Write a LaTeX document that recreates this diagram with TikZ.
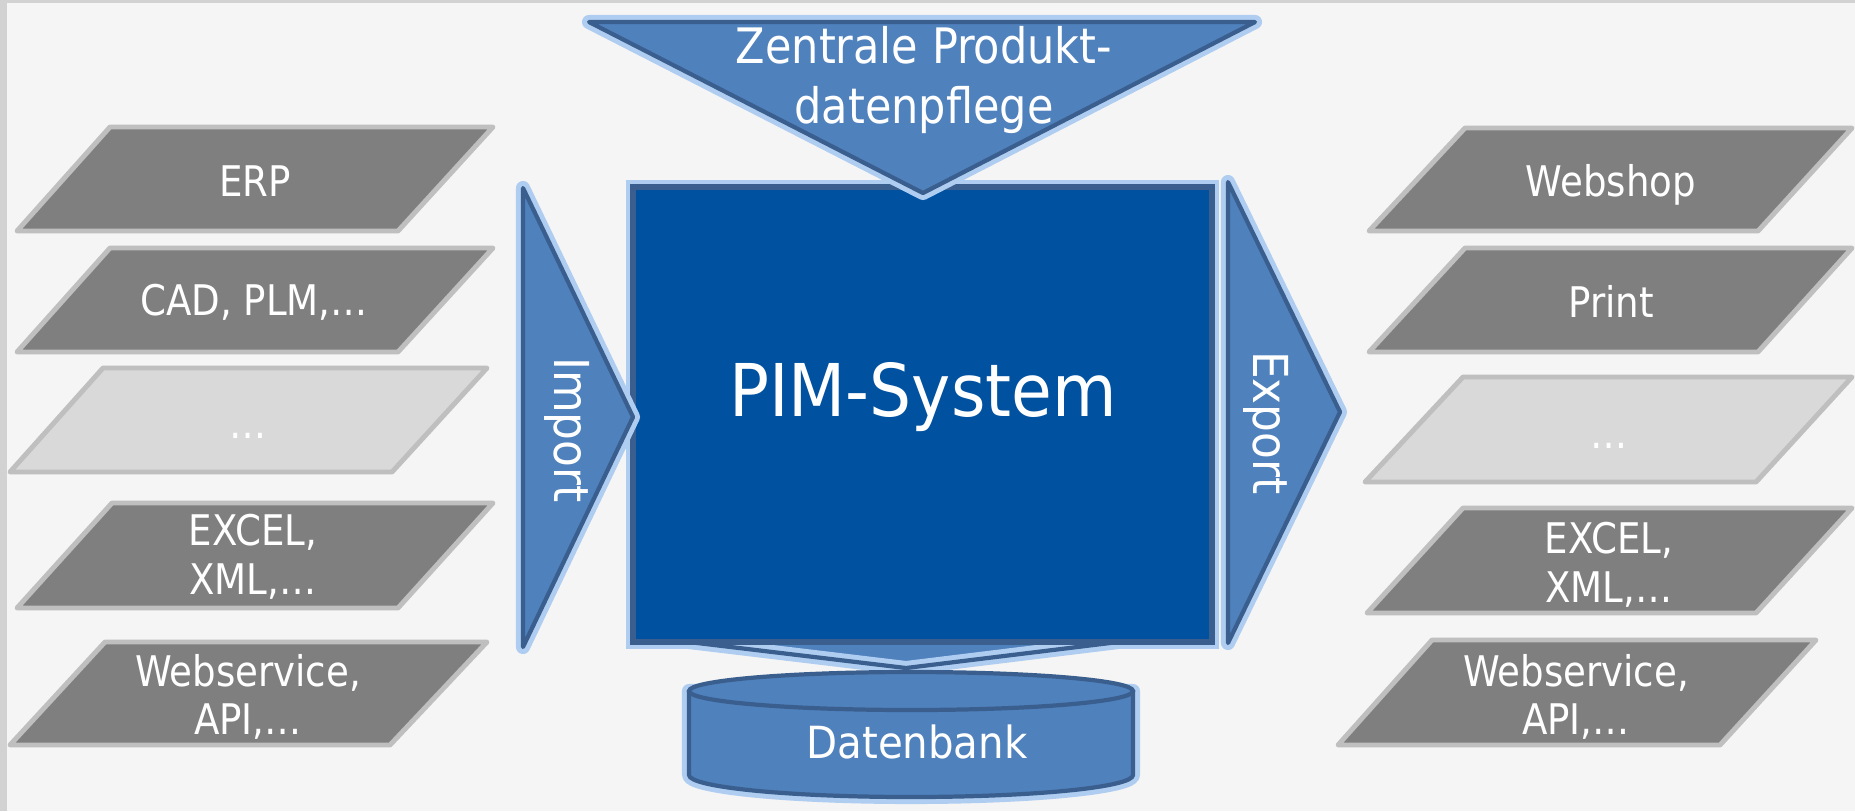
\documentclass[tikz,border=0pt]{standalone}
\usepackage{fontspec}
\setmainfont{DejaVu Sans}[FakeStretch=0.91]
\newfontfamily\narrowfont{DejaVu Sans}[FakeStretch=0.88]

\definecolor{slabdark}{HTML}{7F7F7F}
\definecolor{slablight}{HTML}{D9D9D9}
\definecolor{slabrim}{HTML}{BFBFBF}
\definecolor{pimblue}{HTML}{0051A0}
\definecolor{flowblue}{HTML}{4F81BD}
\definecolor{rimblue}{HTML}{3A5F8E}
\definecolor{glowblue}{HTML}{AFCDF1}
\definecolor{paper}{HTML}{F5F5F5}
\definecolor{paperedge}{HTML}{D2D2D2}

\tikzset{
  slab/.style={draw=slabrim, fill=slabdark, line width=1.4pt, line join=round},
  slabfaint/.style={slab, fill=slablight},
  slabtext/.style={text=white, font=\narrowfont\fontsize{12}{13.8}\selectfont, align=center, inner sep=0pt},
  glow/.style={preaction={draw=glowblue, line width=4pt, line join=round}},
  flow/.style={glow, draw=rimblue, fill=flowblue, line width=1.2pt, line join=round},
  flowtext/.style={text=white, font=\fontsize{13.7}{16.8}\selectfont, inner sep=0pt}
}

\begin{document}
\begin{tikzpicture}[x=0.01cm, y=-0.01cm]
  % page and background
  \useasboundingbox (0,0) rectangle (1855,811);
  \fill[paper] (0,0) rectangle (1855,811);
  \fill[paperedge] (0,0) rectangle (7,811);
  \fill[paperedge] (0,0) rectangle (1855,3);

  % sources on the left
  \draw[slab] (110,127) -- (493,127) -- (398,231) -- (17,231) -- cycle;
  \node[slabtext] (erp) at (255,181) {ERP};
  \draw[slab] (110,248) -- (493,248) -- (398,352) -- (17,352) -- cycle;
  \node[slabtext] (cad) at (254,302) {CAD, PLM,…};
  \draw[slabfaint] (103,368) -- (487,368) -- (392,472) -- (10,472) -- cycle;
  \node[slabtext, anchor=base] (moreleft) at (248,438) {…};
  \draw[slab] (112,503) -- (493,503) -- (398,608) -- (17,608) -- cycle;
  \node[slabtext] (excelleft) at (253,557) {EXCEL,\\XML,…};
  \draw[slab] (105,642) -- (487,642) -- (390,745) -- (10,745) -- cycle;
  \node[slabtext] (webleft) at (248,697) {Webservice,\\API,…};

  % targets on the right
  \draw[slab] (1465,128) -- (1852,128) -- (1758,231) -- (1369,231) -- cycle;
  \node[slabtext] (webshop) at (1611,185) {Webshop};
  \draw[slab] (1465,248) -- (1852,248) -- (1758,352) -- (1369,352) -- cycle;
  \node[slabtext] (print) at (1611,301) {Print};
  \draw[slabfaint] (1463,377) -- (1852,377) -- (1756,482) -- (1365,482) -- cycle;
  \node[slabtext, anchor=base] (moreright) at (1609,448) {…};
  \draw[slab] (1463,508) -- (1852,508) -- (1756,613) -- (1367,613) -- cycle;
  \node[slabtext] (excelright) at (1609,565) {EXCEL,\\XML,…};
  \draw[slab] (1432,640) -- (1816,640) -- (1720,745) -- (1338,745) -- cycle;
  \node[slabtext] (webright) at (1576,697) {Webservice,\\API,…};

  % glow of the PIM box, then the funnel down to the database
  \draw[glowblue, line width=4pt] (633,187) rectangle (1212,642);
  \fill[flowblue] (639,636) -- (1167,636) -- (906,668) -- cycle;
  \draw[glow, draw=rimblue, line width=1.2pt, line join=round] (639,636) -- (906,668) -- (1167,636);

  % the PIM box
  \draw[draw=rimblue, fill=pimblue, line width=1.5pt] (633,187) rectangle (1212,642);
  \node[text=white, font=\fontsize{20.7}{24}\selectfont, inner sep=0pt] (pim) at (923,397) {PIM-System};

  % central maintenance from above
  \draw[flow] (589,22) -- (1255,22) -- (923,193) -- cycle;
  \node[flowtext, font=\narrowfont\fontsize{13.9}{16.8}\selectfont, align=center] (pflege) at (924,80) {Zentrale Produkt-\\datenpflege};

  % import and export arrows
  \draw[flow] (523,188) -- (633,417) -- (523,647) -- cycle;
  \node[flowtext, rotate=-90] (import) at (567,430) {Import};
  \draw[flow] (1228,182) -- (1340,412) -- (1228,643) -- cycle;
  \node[flowtext, rotate=-90] (export) at (1266,423) {Export};

  % database
  \draw[flow] (689,691) -- (689,775) arc[start angle=180, end angle=0, x radius=222, y radius=22] -- (1133,691) -- cycle;
  \draw[draw=rimblue, fill=flowblue, line width=1.2pt] (911,691) ellipse [x radius=222, y radius=19];
  \node[flowtext, font=\fontsize{12.6}{15}\selectfont] (db) at (917,742) {Datenbank};
\end{tikzpicture}
\end{document}
